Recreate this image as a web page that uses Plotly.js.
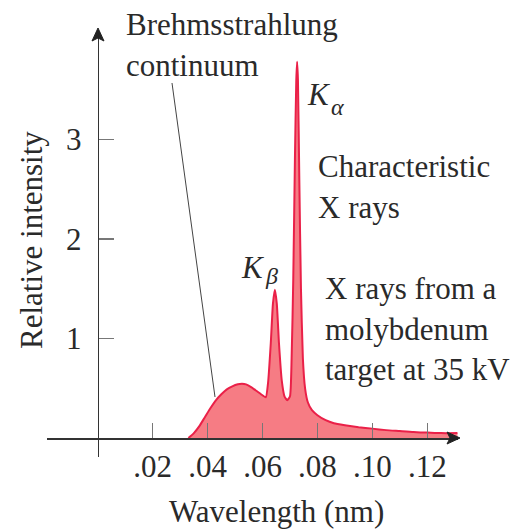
<!DOCTYPE html>
<html>
<head>
<meta charset="utf-8">
<script src="https://cdn.plot.ly/plotly-3.0.1.min.js"></script>
<style>html,body{margin:0;padding:0;background:#fff;}#chart{width:531px;height:531px;}</style>
</head>
<body>
<div id="chart"></div>
<script>
// Wavelength (nm) and relative intensity
const wavelength = [0.0330, 0.0350, 0.0370, 0.0390, 0.0410, 0.0430, 0.0450, 0.0470, 0.0490, 0.0510,
  0.0525, 0.0540, 0.0560, 0.0580, 0.0600, 0.0612, 0.0620, 0.0630, 0.0638, 0.0645,
  0.0652, 0.0660, 0.0670, 0.0680, 0.0690, 0.0700, 0.0706, 0.0712, 0.0718, 0.0723,
  0.0726, 0.0729, 0.0734, 0.0740, 0.0747, 0.0755, 0.0765, 0.0780, 0.0800, 0.0830,
  0.0860, 0.0900, 0.0950, 0.1000, 0.1050, 0.1100, 0.1150, 0.1200, 0.1250, 0.1310];
const intensity = [0.00, 0.05, 0.12, 0.21, 0.30, 0.38, 0.44, 0.49, 0.52, 0.54,
  0.545, 0.54, 0.51, 0.47, 0.43, 0.41, 0.55, 0.95, 1.35, 1.49,
  1.35, 0.95, 0.58, 0.42, 0.38, 0.42, 0.80, 1.60, 2.80, 3.60,
  3.78, 3.60, 2.60, 1.50, 0.80, 0.50, 0.36, 0.28, 0.23, 0.18,
  0.15, 0.13, 0.11, 0.095, 0.08, 0.07, 0.06, 0.055, 0.05, 0.05];
const xTickVals = [0.02, 0.04, 0.06, 0.08, 0.10, 0.12];
const xTickText = ['.02', '.04', '.06', '.08', '.10', '.12'];
const yTickVals = [1, 2, 3];
const yTickText = ['1', '2', '3'];

const FONT = '"Liberation Serif", "Times New Roman", serif';
const FS = 31;
const textColor = '#2a2a2a';
const F = {family: FONT, size: FS, color: textColor};
const FI = {family: FONT, size: FS, color: textColor, style: 'italic'};
const FSUB = {family: FONT, size: 24, color: textColor, style: 'italic'};

const trace = {
  x: wavelength, y: intensity, type: 'scatter', mode: 'lines',
  fill: 'tozeroy', fillcolor: 'rgb(246,124,132)',
  line: {color: 'rgb(234,32,72)', width: 2, shape: 'spline', smoothing: 0.5},
  hoverinfo: 'skip', showlegend: false
};

const xRange = [-0.0185, 0.1312];
const yRange = [-0.19, 4.1];

// pixel helpers for layout-only positions (plot area: x 47..458, y 30..457)
const px = p => (p - 47) / 411;
const py = p => (457 - p) / 427;

function label(text, xPix, yPix, font) {
  return {text: text, xref: 'paper', yref: 'paper', x: px(xPix), y: py(yPix),
    xanchor: 'left', yanchor: 'middle', align: 'left', showarrow: false, font: font || F};
}

const layout = {
  width: 531, height: 531,
  margin: {l: 47, r: 73, t: 30, b: 74, pad: 0},
  paper_bgcolor: '#fff', plot_bgcolor: '#fff',
  font: F,
  showlegend: false,
  xaxis: {
    range: xRange, anchor: 'free', position: 0.19 / 4.29,
    showline: true, linecolor: '#333', linewidth: 1.5,
    showgrid: false, zeroline: false,
    ticks: 'inside', ticklen: 15, tickwidth: 1.5, tickcolor: '#777',
    tickvals: xTickVals, ticktext: xTickText,
    tickfont: F,
    ticklabelstandoff: 0,
    fixedrange: true
  },
  yaxis: {
    range: yRange, anchor: 'free', position: 0.0185 / 0.1497,
    showline: true, linecolor: '#333', linewidth: 1.5,
    showgrid: false, zeroline: false,
    ticks: 'inside', ticklen: 15, tickwidth: 1.5, tickcolor: '#777',
    tickvals: yTickVals, ticktext: yTickText,
    tickfont: F,
    ticklabelstandoff: 10,
    fixedrange: true
  },
  shapes: [
    // pointer line for the continuum label
    {type: 'line', xref: 'paper', yref: 'paper',
     x0: px(172), y0: py(83), x1: px(215), y1: py(397),
     line: {color: '#444', width: 1}},
    // axis arrowheads
    {type: 'path', xref: 'paper', yref: 'paper',
     path: `M ${px(460)} ${py(438)} L ${px(447)} ${py(432)} L ${px(450)} ${py(438)} L ${px(447)} ${py(444)} Z`,
     fillcolor: '#222', line: {color: '#222', width: 1}},
    {type: 'path', xref: 'paper', yref: 'paper',
     path: `M ${px(98)} ${py(28)} L ${px(92)} ${py(41)} L ${px(98)} ${py(38)} L ${px(104)} ${py(41)} Z`,
     fillcolor: '#222', line: {color: '#222', width: 1}}
  ],
  annotations: [
    // axis titles
    {text: 'Wavelength (nm)', xref: 'paper', yref: 'paper', x: px(276), y: py(512),
     xanchor: 'center', yanchor: 'middle', showarrow: false, font: F},
    {text: 'Relative intensity', xref: 'paper', yref: 'paper', x: px(31), y: py(240),
     xanchor: 'center', yanchor: 'middle', textangle: -90, showarrow: false, font: F},
    // labels, one line each
    label('Brehmsstrahlung', 124, 25),
    label('continuum', 124, 65),
    label('K', 305, 95, FI),
    label('α', 329, 107, FSUB),
    label('Characteristic', 316, 166),
    label('X rays', 316, 207),
    label('K', 239, 267, FI),
    label('β', 263, 276, FSUB),
    label('X rays from a', 323, 288),
    label('molybdenum', 323, 329),
    label('target at 35 kV', 323, 369)
  ]
};

Plotly.newPlot('chart', [trace], layout, {staticPlot: true, displayModeBar: false});
</script>
</body>
</html>
